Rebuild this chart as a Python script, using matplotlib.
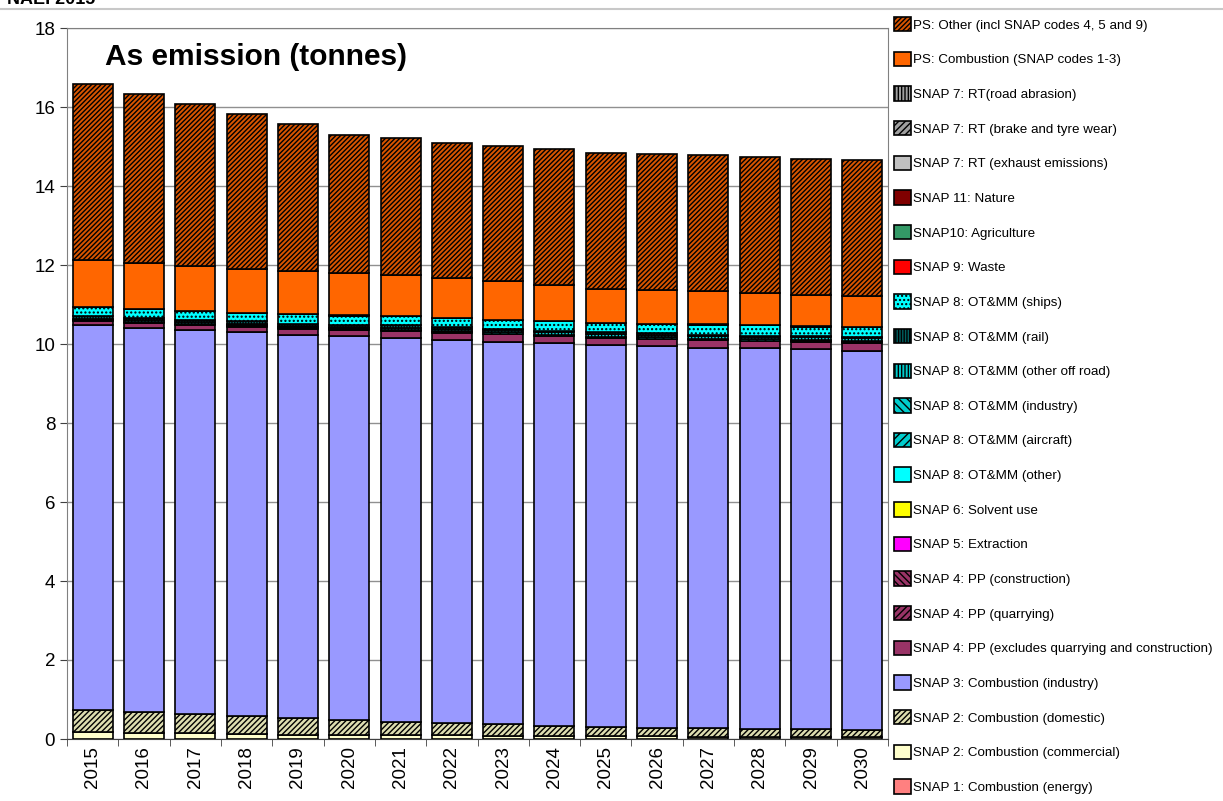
import numpy as np
import matplotlib
matplotlib.use("Agg")
import matplotlib.pyplot as plt
from matplotlib.lines import Line2D

plt.rcParams['font.family'] = ['Liberation Sans', 'DejaVu Sans']
plt.rcParams['hatch.linewidth'] = 1.0

years = [str(y) for y in range(2015, 2031)]

# stacked series, bottom to top (tonnes)
snap1_energy = [0, 0, 0, 0, 0, 0, 0, 0, 0, 0, 0, 0, 0, 0, 0, 0]
snap2_commercial = [0.17, 0.15, 0.14, 0.13, 0.11, 0.10, 0.10, 0.09, 0.085, 0.08, 0.07, 0.07, 0.06, 0.06, 0.05, 0.05]
snap2_domestic = [0.56, 0.53, 0.49, 0.45, 0.41, 0.37, 0.34, 0.32, 0.285, 0.26, 0.24, 0.22, 0.22, 0.20, 0.20, 0.19]
snap3_industry = [9.74, 9.73, 9.73, 9.72, 9.72, 9.74, 9.71, 9.70, 9.69, 9.68, 9.66, 9.65, 9.63, 9.63, 9.62, 9.59]
snap4_pp_excl = [0.12, 0.12, 0.12, 0.14, 0.15, 0.15, 0.17, 0.18, 0.19, 0.17, 0.17, 0.18, 0.18, 0.18, 0.18, 0.20]
snap4_quarrying = [0.005] * 16
snap4_construction = [0.005] * 16
snap5_extraction = [0] * 16
snap6_solvent = [0] * 16
snap8_other = [0] * 16
snap8_aircraft = [0.005] * 16
snap8_industry = [0.02, 0.02, 0.02, 0.02, 0.02, 0.02, 0.03, 0.03, 0.03, 0.03, 0.03, 0.03, 0.03, 0.03, 0.03, 0.03]
snap8_offroad = [0.02, 0.03, 0.03, 0.03, 0.03, 0.04, 0.05, 0.05, 0.05, 0.06, 0.07, 0.07, 0.07, 0.07, 0.08, 0.07]
snap8_rail = [0.055, 0.075, 0.065, 0.065, 0.055, 0.045, 0.055, 0.045, 0.035, 0.045, 0.045, 0.035, 0.035, 0.025, 0.025, 0.025]
snap8_ships = [0.24, 0.21, 0.22, 0.21, 0.24, 0.24, 0.24, 0.23, 0.23, 0.23, 0.23, 0.24, 0.25, 0.26, 0.24, 0.26]
snap9_waste = [0] * 16
snap10_agri = [0] * 16
snap11_nature = [0] * 16
snap7_exhaust = [0] * 16
snap7_brake = [0.005] * 16
snap7_road = [0.003] * 16
ps_combustion = [1.17, 1.16, 1.14, 1.12, 1.09, 1.07, 1.04, 1.01, 0.97, 0.91, 0.86, 0.84, 0.84, 0.81, 0.80, 0.77]
ps_other = [4.46, 4.28, 4.09, 3.91, 3.71, 3.49, 3.45, 3.42, 3.42, 3.44, 3.45, 3.44, 3.44, 3.44, 3.44, 3.44]

series = [
    ("SNAP 1: Combustion (energy)", snap1_energy, "#FF8080", None),
    ("SNAP 2: Combustion (commercial)", snap2_commercial, "#FFFFCC", None),
    ("SNAP 2: Combustion (domestic)", snap2_domestic, "#DDDDB0", "//////"),
    ("SNAP 3: Combustion (industry)", snap3_industry, "#9999FF", None),
    ("SNAP 4: PP (excludes quarrying and construction)", snap4_pp_excl, "#993366", None),
    ("SNAP 4: PP (quarrying)", snap4_quarrying, "#993366", "/////"),
    ("SNAP 4: PP (construction)", snap4_construction, "#993366", "\\\\\\\\\\"),
    ("SNAP 5: Extraction", snap5_extraction, "#FF00FF", None),
    ("SNAP 6: Solvent use", snap6_solvent, "#FFFF00", None),
    ("SNAP 8: OT&MM (other)", snap8_other, "#00FFFF", None),
    ("SNAP 8: OT&MM (aircraft)", snap8_aircraft, "#00CCCC", "////"),
    ("SNAP 8: OT&MM (industry)", snap8_industry, "#00CCCC", "\\\\\\\\"),
    ("SNAP 8: OT&MM (other off road)", snap8_offroad, "#00CCCC", "|||||"),
    ("SNAP 8: OT&MM (rail)", snap8_rail, "#006060", "||||||"),
    ("SNAP 8: OT&MM (ships)", snap8_ships, "#00FFFF", "...."),
    ("SNAP 9: Waste", snap9_waste, "#FF0000", None),
    ("SNAP10: Agriculture", snap10_agri, "#339966", None),
    ("SNAP 11: Nature", snap11_nature, "#800000", None),
    ("SNAP 7: RT (exhaust emissions)", snap7_exhaust, "#C0C0C0", None),
    ("SNAP 7: RT (brake and tyre wear)", snap7_brake, "#A0A0A0", "/////"),
    ("SNAP 7: RT(road abrasion)", snap7_road, "#A0A0A0", "|||||"),
    ("PS: Combustion (SNAP codes 1-3)", ps_combustion, "#FF6600", None),
    ("PS: Other (incl SNAP codes 4, 5 and 9)", ps_other, "#D85500", "///////"),
]

fig = plt.figure(figsize=(12.23, 8.01), dpi=100)
ax = fig.add_axes([67 / 1223, 62 / 801, 821 / 1223, 711 / 801])

x = np.arange(len(years))
bottom = np.zeros(len(years))
handles = []
for label, vals, color, hatch in series:
    vals = np.array(vals, dtype=float)
    b = ax.bar(x, vals, 0.78, bottom=bottom, color=color, edgecolor="black",
               linewidth=1.2, hatch=hatch, label=label, zorder=3)
    handles.append(b)
    bottom += vals

ax.set_xlim(-0.5, len(years) - 0.5)
ax.set_ylim(0, 18)
ax.set_yticks(np.arange(0, 19, 2))
ax.set_xticks(x)
ax.set_xticklabels(years, rotation=90, fontsize=13.5)
ax.tick_params(axis="x", length=0, pad=5)
ax.set_xticks(np.arange(-0.5, len(years), 1), minor=True)
ax.tick_params(axis="x", which="minor", length=5, color="#404040")
ax.tick_params(axis="y", labelsize=13.5, length=5, color="#404040")
ax.yaxis.grid(True, color="#909090", linewidth=1.0)
ax.set_axisbelow(True)
for side in ["top", "right", "left"]:
    ax.spines[side].set_color("#808080")
ax.spines["bottom"].set_color("#404040")

ax.text(0.046, 0.959, "As emission (tonnes)", transform=ax.transAxes,
        fontsize=21.5, fontweight="bold", va="center", ha="left")

leg = fig.legend(handles[::-1], [s[0] for s in series][::-1], loc="upper left",
                 bbox_to_anchor=(894 / 1223, 1 - 17 / 801), frameon=False,
                 fontsize=9.6, handlelength=1.28, handleheight=1.28,
                 handletextpad=0.12, labelspacing=1.5, borderpad=0, borderaxespad=0)

# cut-off heading and separator line at the top of the page
fig.text(0.006, 1.0, "NAEI 2015", fontsize=13, fontweight="bold", va="center", ha="left")
fig.add_artist(Line2D([0, 1], [1 - 9 / 801] * 2, color="#C8C8C8", linewidth=1.5))

fig.savefig("out.png", dpi=100)
